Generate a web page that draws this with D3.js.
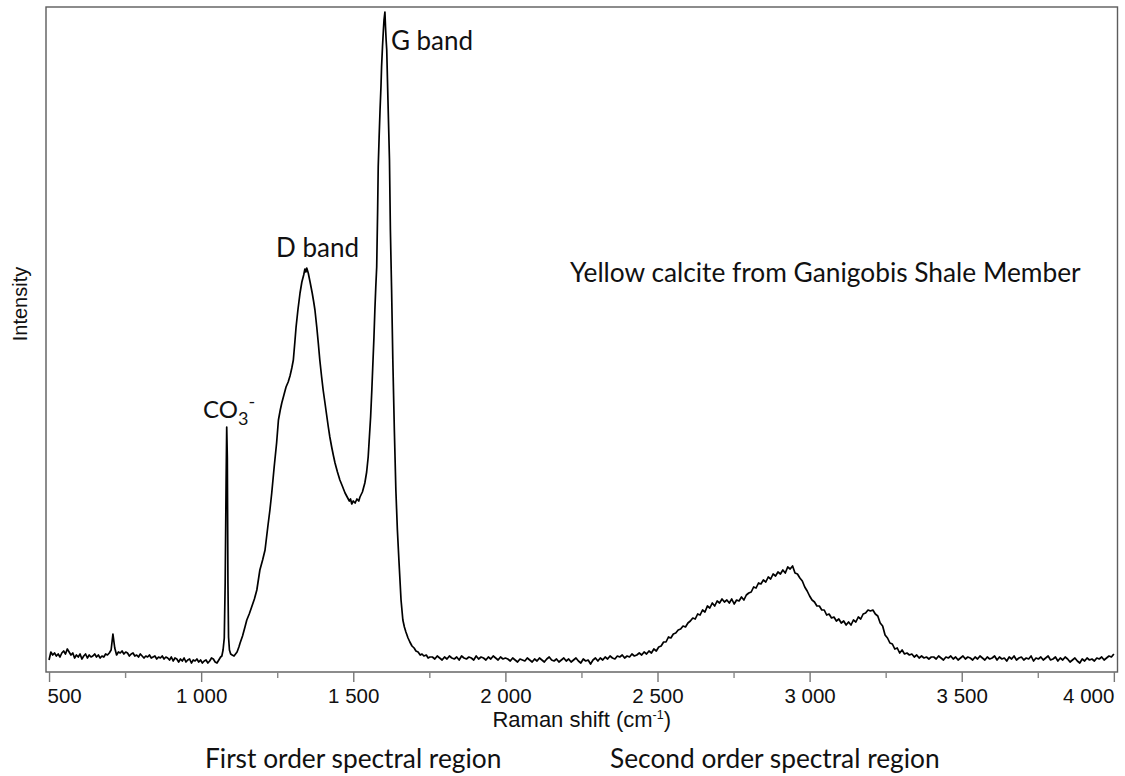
<!DOCTYPE html>
<html>
<head>
<meta charset="utf-8">
<script src="https://cdn.jsdelivr.net/npm/d3@7"></script>
<style>
  html, body { margin: 0; padding: 0; background: #fff; }
  svg { display: block; }
</style>
</head>
<body>
<svg id="chart" width="1125" height="776"></svg>
<script>
// Raman spectrum of yellow calcite, 500–4000 cm-1, intensity in arbitrary units.

// 500–1064 cm-1, sampled every 6 cm-1 (flat baseline with small band near 710)
const lowStart = 500, lowStep = 6;
const lowValues = [
  12, 20, 17, 19, 16, 18, 15, 19, 21, 18,
  23, 20, 17, 19, 14, 17, 15, 18, 13, 16,
  18, 14, 17, 15, 16, 18, 15, 17, 14, 16,
  15, 18, 17, 19, 22, 38, 24, 17, 20, 19,
  21, 18, 20, 19, 16, 18, 19, 16, 17, 15,
  18, 16, 14, 16, 15, 17, 14, 15, 16, 13,
  15, 14, 16, 13, 15, 14, 12, 15, 11, 14,
  13, 10, 13, 11, 14, 10, 12, 13, 9, 12,
  11, 13, 10, 12, 9, 11, 12, 9, 11, 14,
  13, 10, 9, 12, 15
];

// First-order region: carbonate line, D band and G band [shift, intensity]
const firstOrder = [
  [1068, 16], [1072, 22], [1076, 34], [1079, 90], [1082, 190], [1084, 245], [1086, 215],
  [1088, 90], [1090, 35], [1093, 22], [1097, 18], [1102, 17], [1108, 16], [1113, 18],
  [1118, 20], [1124, 25], [1128, 29], [1136, 36], [1144, 45], [1150, 52], [1158, 58],
  [1166, 65], [1175, 73], [1183, 82], [1193, 102], [1202, 112], [1210, 122], [1219, 145],
  [1226, 162], [1232, 179], [1240, 205], [1248, 229], [1254, 252], [1260, 262], [1265, 269],
  [1272, 277], [1279, 285], [1286, 290], [1292, 296], [1298, 304], [1303, 312], [1308, 330],
  [1312, 345], [1318, 362], [1325, 379], [1331, 390], [1337, 397], [1341, 403], [1344, 400],
  [1347, 404], [1352, 399], [1358, 390], [1365, 379], [1370, 370], [1374, 362], [1380, 345],
  [1385, 329], [1390, 312], [1396, 295], [1401, 282], [1407, 269], [1412, 258], [1418, 245],
  [1423, 235], [1429, 225], [1435, 216], [1440, 209], [1448, 200], [1456, 192], [1464, 186],
  [1473, 179], [1480, 175], [1487, 171], [1491, 173], [1495, 168], [1500, 171], [1506, 169],
  [1512, 173], [1518, 171], [1522, 175], [1530, 180], [1538, 189], [1544, 200], [1549, 215],
  [1553, 235], [1557, 255], [1561, 282], [1564, 305], [1568, 335], [1571, 362], [1574, 385],
  [1577, 405], [1580, 460], [1582, 505], [1585, 535], [1588, 562], [1591, 585], [1593, 605],
  [1596, 625], [1599, 642], [1601, 652], [1604, 660], [1606, 645], [1608, 632], [1610, 622],
  [1614, 572], [1619, 512], [1622, 442], [1626, 382], [1630, 312], [1635, 242], [1640, 182],
  [1645, 142], [1650, 112], [1657, 72], [1663, 52], [1668, 45], [1673, 40], [1680, 34],
  [1686, 30], [1693, 26], [1700, 24], [1706, 21], [1713, 20], [1720, 17], [1726, 18],
  [1732, 16], [1740, 17], [1746, 14], [1752, 15]
];

// 1760–4000 cm-1, sampled every 8 cm-1 (baseline and second-order bands)
const highStart = 1760, highStep = 8;
const highValues = [
  // 1760–2000
  15, 13, 16, 14, 12, 15, 13, 16, 14, 13, 15, 12, 16, 14, 13, 15, 14, 12, 16, 13,
  15, 14, 12, 15, 13, 16, 14, 12, 15, 13, 14,
  // 2008–2304
  13, 11, 14, 12, 10, 13, 12, 11, 14, 12, 10, 13, 11, 14, 12, 10, 13, 15, 12, 11,
  13, 10, 12, 14, 11, 13, 10, 12, 14, 11, 9, 13, 11, 12, 8, 12, 14, 11,
  // 2312–2440
  14, 12, 15, 13, 16, 14, 13, 16, 15, 17, 14, 16, 15, 18, 16, 17, 19,
  // 2448–2600
  17, 20, 18, 21, 19, 23, 21, 25, 26, 30, 30, 35, 34, 38, 39, 42, 43, 46, 45, 49,
  // 2608–2800
  51, 54, 53, 58, 57, 62, 60, 66, 64, 69, 66, 71, 69, 73, 70, 72, 69, 73, 68, 72,
  71, 75, 72, 77, 79,
  // 2808–3000
  80, 85, 84, 89, 88, 92, 90, 95, 93, 98, 96, 100, 98, 102, 99, 105, 103, 106, 99, 98,
  94, 91, 85, 81, 76,
  // 3008–3200
  72, 70, 66, 66, 62, 62, 57, 58, 54, 55, 51, 53, 49, 51, 47, 50, 47, 52, 50, 55,
  53, 58, 59, 62, 61,
  // 3208–3400
  62, 58, 56, 49, 46, 37, 34, 29, 28, 23, 24, 19, 22, 18, 19, 17, 18, 15, 17, 14,
  16, 14, 15, 13, 15,
  // 3408–4000
  15, 13, 16, 14, 12, 15, 14, 16, 13, 15, 12, 14, 16, 13, 15, 14, 12, 15, 13, 16,
  14, 12, 15, 13, 14, 16, 12, 15, 13, 14, 11, 15, 13, 16, 12, 14, 15, 12, 14, 13,
  16, 11, 14, 13, 15, 12, 14, 16, 12, 13, 15, 11, 14, 12, 15, 13, 10, 12, 14, 11,
  9, 13, 11, 14, 12, 13, 11, 14, 13, 15, 12, 14, 16, 15, 18
];

const majorTicks = [500, 1000, 1500, 2000, 2500, 3000, 3500, 4000];
const minorTicks = [750, 1250, 1750, 2250, 2750, 3250, 3750];

const xTitle = "Raman shift (cm";
const yTitle = "Intensity";
const sampleTitle = "Yellow calcite from Ganigobis Shale Member";
const regionLabels = ["First order spectral region", "Second order spectral region"];

// Assemble the full spectrum
const spectrum = [
  ...lowValues.map((v, i) => [lowStart + i * lowStep, v]),
  ...firstOrder,
  ...highValues.map((v, i) => [highStart + i * highStep, v])
];

const svg = d3.select("#chart");
const plot = { left: 46, right: 1117.5, top: 7, bottom: 672 };

const x = d3.scaleLinear().domain([490, 4012]).range([plot.left, plot.right]);
const y = d3.scaleLinear().domain([0, 665]).range([plot.bottom, plot.top]);

const numFmt = d3.formatLocale({ decimal: ".", thousands: " ", grouping: [3], currency: ["", ""] }).format(",");

// Spectrum trace
svg.append("path")
  .datum(spectrum)
  .attr("fill", "none")
  .attr("stroke", "#000")
  .attr("stroke-width", 1.7)
  .attr("stroke-linejoin", "round")
  .attr("d", d3.line().x(d => x(d[0])).y(d => y(d[1])));

// Plot frame
svg.append("rect")
  .attr("x", plot.left).attr("y", plot.top)
  .attr("width", plot.right - plot.left).attr("height", plot.bottom - plot.top)
  .attr("fill", "none").attr("stroke", "#5c5c5c").attr("stroke-width", 1.4);

// X axis: major and minor ticks below the frame
const axisG = svg.append("g").attr("transform", `translate(0,${plot.bottom})`);
const xAxis = d3.axisBottom(x).tickValues(majorTicks).tickSize(10).tickPadding(5).tickFormat(numFmt);
axisG.call(xAxis);
axisG.select(".domain").remove();
axisG.selectAll(".tick line").attr("stroke", "#777").attr("stroke-width", 1.4);
axisG.selectAll(".tick text")
  .attr("font-family", "'Liberation Sans', Arial, sans-serif")
  .attr("font-size", 20.5)
  .attr("fill", "#111")
  .attr("dy", null)
  .attr("y", 31);
axisG.selectAll(".tick text").filter(d => d === majorTicks[0]).attr("text-anchor", "start").attr("dx", -2);
axisG.selectAll(".tick text").filter(d => d === majorTicks[majorTicks.length - 1]).attr("text-anchor", "end");

const minorAxis = d3.axisBottom(x).tickValues(minorTicks).tickSize(6).tickFormat("");
const minorG = svg.append("g").attr("transform", `translate(0,${plot.bottom})`).call(minorAxis);
minorG.select(".domain").remove();
minorG.selectAll(".tick line").attr("stroke", "#888").attr("stroke-width", 1.4);

// Axis titles
const xt = svg.append("text")
  .attr("x", (plot.left + plot.right) / 2).attr("y", 727)
  .attr("text-anchor", "middle")
  .attr("font-family", "'Liberation Sans', Arial, sans-serif")
  .attr("font-size", 22).attr("fill", "#111");
xt.append("tspan").text(xTitle);
xt.append("tspan").attr("dy", -8).attr("font-size", 12.5).text("-1");
xt.append("tspan").attr("dy", 8).text(")");

svg.append("text")
  .attr("transform", "translate(27,304) rotate(-90)")
  .attr("text-anchor", "middle")
  .attr("font-family", "'Liberation Sans', Arial, sans-serif")
  .attr("font-size", 20).attr("fill", "#111")
  .text(yTitle);

// Annotations
const noteFont = "Lato, 'Open Sans', sans-serif";
const note = (tx, ty, size) => svg.append("text")
  .attr("x", tx).attr("y", ty)
  .attr("font-family", noteFont).attr("font-size", size).attr("fill", "#111");

note(570, 282, 26.3).text(sampleTitle);
note(x(1604) + 6, 50, 26).text("G band");
note(276, 257, 26).text("D band");

const co3 = note(203, 418, 24);
co3.append("tspan").text("CO");
co3.append("tspan").attr("dy", 7).attr("font-size", 18).text("3");
co3.append("tspan").attr("dy", -17).attr("font-size", 18).text("-");

note(205, 768, 26.3).text(regionLabels[0]);
note(610, 768, 26.3).text(regionLabels[1]);
</script>
</body>
</html>
